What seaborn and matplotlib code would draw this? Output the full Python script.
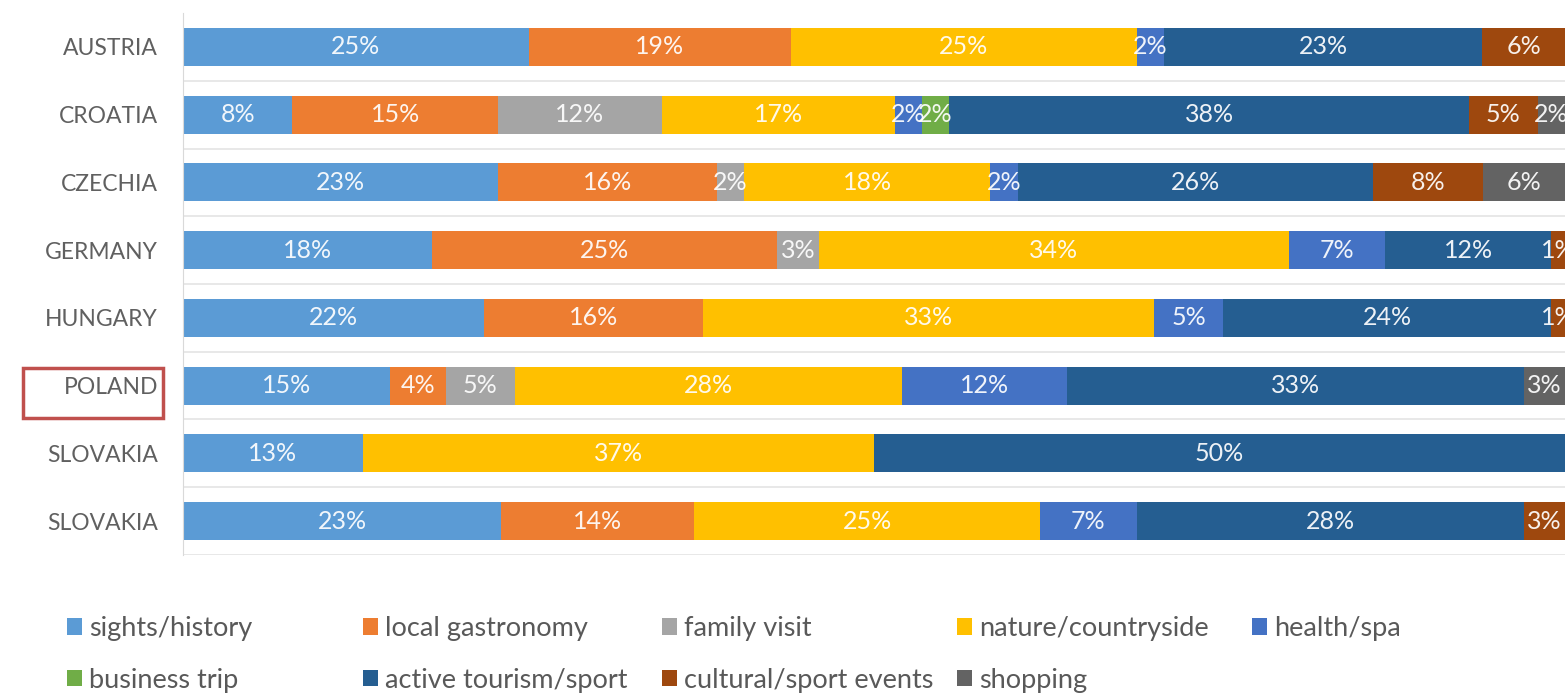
import matplotlib
matplotlib.use("Agg")
import matplotlib.pyplot as plt
from matplotlib.patches import Patch, Rectangle
import numpy as np
import pandas as pd
import seaborn as sns

countries = ["AUSTRIA", "CROATIA", "CZECHIA", "GERMANY", "HUNGARY", "POLAND", "SLOVAKIA", "SLOVAKIA"]

motives = ["sights/history", "local gastronomy", "family visit", "nature/countryside", "health/spa",
           "business trip", "active tourism/sport", "cultural/sport events", "shopping"]

colors = ["#5B9BD5", "#ED7D31", "#A5A5A5", "#FFC000", "#4472C4",
          "#70AD47", "#255E91", "#9E480E", "#636363"]

# shares in %, one list per motive, rows in the order of `countries`
sights = [25, 8, 23, 18, 22, 15, 13, 23]
gastronomy = [19, 15, 16, 25, 16, 4, 0, 14]
family = [0, 12, 2, 3, 0, 5, 0, 0]
nature = [25, 17, 18, 34, 33, 28, 37, 25]
health = [2, 2, 2, 7, 5, 12, 0, 7]
business = [0, 2, 0, 0, 0, 0, 0, 0]
active = [23, 38, 26, 12, 24, 33, 50, 28]
cultural = [6, 5, 8, 1, 1, 0, 0, 3]
shopping = [0, 2, 6, 0, 0, 3, 0, 0]

series = [sights, gastronomy, family, nature, health, business, active, cultural, shopping]

plt.rcParams["font.family"] = ["Lato", "DejaVu Sans"]

vals = np.array(series, dtype=float)          # motives x countries
frac = vals / vals.sum(axis=0)                # 100% stacked
cum = frac.cumsum(axis=0)
row_ids = [f"r{i}" for i in range(len(countries))]

fig = plt.figure(figsize=(15.67, 6.96), dpi=100)
ax = fig.add_axes([0.1168, 0.2026, 0.8819, 0.7787])

# draw cumulative layers from the last motive to the first
for i in range(len(motives) - 1, -1, -1):
    df = pd.DataFrame({"x": cum[i], "y": row_ids})
    sns.barplot(data=df, x="x", y="y", orient="h", color=colors[i], saturation=1,
                width=0.56, errorbar=None, ax=ax, linewidth=0)

# segment labels
for i in range(len(motives)):
    for j in range(len(countries)):
        if vals[i, j] > 0:
            left = cum[i, j] - frac[i, j]
            ax.text(left + frac[i, j] / 2, j, f"{int(vals[i, j])}%", ha="center", va="center",
                    color="white", fontsize=18, alpha=0.92)

ax.set_xlim(0, 1)
ax.set_ylim(len(countries) - 0.5, -0.5)
ax.set_yticks(range(len(countries)))
ax.set_yticklabels(countries, fontsize=16.5, color="#606060")
ax.tick_params(axis="y", length=0, pad=18)
ax.set_xticks([])
ax.set_xlabel("")
ax.set_ylabel("")
for s in ["top", "right", "bottom"]:
    ax.spines[s].set_visible(False)
ax.spines["left"].set_color("#d9d9d9")
for k in range(len(countries)):
    ax.axhline(k + 0.5, color="#e4e4e4", lw=1.2, zorder=0)

# highlight box around POLAND
fig.add_artist(Rectangle((23 / 1567, 1 - 418 / 696), 140 / 1567, 50 / 696, transform=fig.transFigure,
                         fill=False, edgecolor="#C0504D", lw=2.5))

# legend: five equal-width columns, filled row by row
handles = [Patch(facecolor=c, edgecolor="none") for c in colors]
col_x = [67, 363, 662, 957, 1252]
for c, x in enumerate(col_x):
    idx = [k for k in (c, c + 5) if k < len(motives)]
    fig.legend([handles[k] for k in idx], [motives[k] for k in idx], loc="upper left",
               bbox_to_anchor=(x / 1567, 1 - 616 / 696), frameon=False, fontsize=19.5,
               handlelength=0.55, handleheight=0.55, handletextpad=0.25, labelspacing=0.99,
               borderpad=0, borderaxespad=0, labelcolor="#595959")

fig.savefig("out.png", dpi=100)
